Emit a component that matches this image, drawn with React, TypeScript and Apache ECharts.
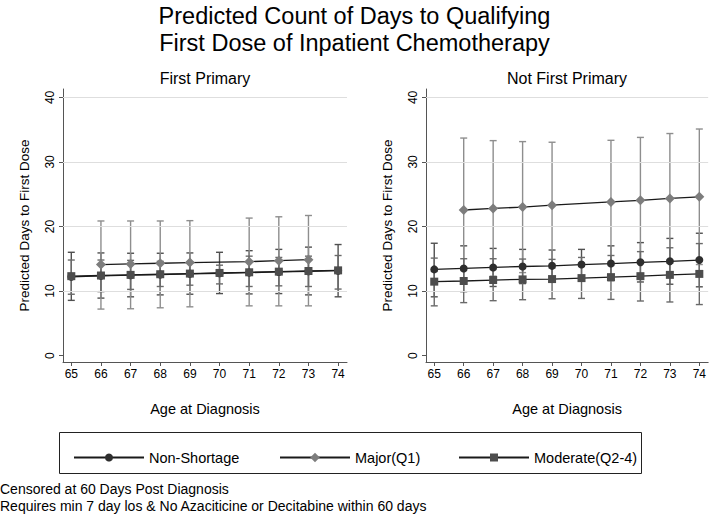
import React, { useEffect, useRef } from "react";
import * as echarts from "echarts";

const ages = [65, 66, 67, 68, 69, 70, 71, 72, 73, 74];
const yTicks = [0, 10, 20, 30, 40];
const gridVals = [10, 20, 30, 40];

// First Primary
const fpNonShortage = [12.2, 12.35, 12.45, 12.55, 12.65, 12.75, 12.85, 12.95, 13.05, 13.15];
const fpNonShortageLo = [8.55, 8.9, 9.1, 9.4, 9.5, 9.6, 9.55, 9.6, 9.4, 9.1];
const fpNonShortageHi = [16.0, 15.9, 15.85, 15.85, 15.9, 16.0, 16.25, 16.45, 16.8, 17.2];
const fpModerate = [12.3, 12.4, 12.5, 12.6, 12.7, 12.8, 12.9, 13.0, 13.1, 13.2];
const fpModerateLo = [9.5, 9.9, 10.25, 10.7, 10.9, 11.1, 10.7, 10.8, 10.7, 10.3];
const fpModerateHi = [14.8, 14.8, 14.75, 14.6, 14.5, 14.0, 15.4, 15.2, 15.4, 15.5];
const fpMajor = [null, 14.1, 14.2, 14.3, 14.4, null, 14.55, 14.7, 14.85, null];
const fpMajorLo = [null, 7.2, 7.25, 7.4, 7.55, null, 7.7, 7.7, 7.7, null];
const fpMajorHi = [null, 20.85, 20.85, 20.85, 20.9, null, 21.3, 21.5, 21.7, null];

// Not First Primary
const nfpNonShortage = [13.35, 13.5, 13.65, 13.8, 13.9, 14.1, 14.25, 14.45, 14.6, 14.8];
const nfpNonShortageLo = [9.1, 9.9, 10.7, 11.15, 11.45, 11.75, 11.6, 11.4, 11.05, 10.65];
const nfpNonShortageHi = [17.4, 17.0, 16.6, 16.45, 16.35, 16.45, 17.0, 17.5, 18.15, 18.95];
const nfpModerate = [11.45, 11.55, 11.7, 11.8, 11.85, 12.0, 12.15, 12.3, 12.5, 12.65];
const nfpModerateLo = [7.7, 8.2, 8.5, 8.65, 8.8, 8.85, 8.7, 8.45, 8.3, 7.9];
const nfpModerateHi = [15.1, 15.0, 15.0, 14.95, 14.9, 15.2, 15.5, 16.1, 16.7, 17.35];
const nfpMajor = [null, 22.55, 22.8, 23.0, 23.3, null, 23.8, 24.05, 24.35, 24.6];
const nfpMajorLo = [null, 11.4, 12.3, 12.85, 13.55, null, 14.25, 14.3, 14.3, 14.1];
const nfpMajorHi = [null, 33.7, 33.3, 33.15, 33.05, null, 33.35, 33.8, 34.4, 35.1];

const FONT = "'Liberation Sans', Arial, Helvetica, sans-serif";
const NAMES = ["Non-Shortage", "Major(Q1)", "Moderate(Q2-4)"];
const MARK_COLORS = ["#2e2e2e", "#7d7d7d", "#4d4d4d"];
const BAR_COLORS = ["#505050", "#8e8e8e", "#6a6a6a"];
const SYMBOLS = ["circle", "diamond", "rect"];
const SIZES = [8, 10, 8];
const LEGEND_SIZES = [10, 12, 10];

function linePts(vals: (number | null)[]) {
  return ages.map((a, i) => [a, vals[i] == null ? "-" : vals[i]]);
}
function barPts(lo: (number | null)[], hi: (number | null)[]) {
  const out: number[][] = [];
  ages.forEach((a, i) => {
    if (lo[i] != null && hi[i] != null) out.push([a, lo[i] as number, hi[i] as number]);
  });
  return out;
}

function errorSeries(idx: number, k: number, lo: any[], hi: any[]) {
  const color = BAR_COLORS[k];
  return {
    type: "custom",
    name: "ci-" + NAMES[k],
    xAxisIndex: idx,
    yAxisIndex: idx,
    z: 2,
    silent: true,
    encode: { x: 0, y: [1, 2] },
    data: barPts(lo, hi),
    renderItem: (params: any, api: any) => {
      const x = api.value(0);
      const pLo = api.coord([x, api.value(1)]);
      const pHi = api.coord([x, api.value(2)]);
      const w = 3.5;
      const st = { stroke: color, lineWidth: 1.4 };
      return {
        type: "group",
        children: [
          { type: "line", shape: { x1: pLo[0], y1: pLo[1], x2: pHi[0], y2: pHi[1] }, style: st },
          { type: "line", shape: { x1: pLo[0] - w, y1: pLo[1], x2: pLo[0] + w, y2: pLo[1] }, style: st },
          { type: "line", shape: { x1: pHi[0] - w, y1: pHi[1], x2: pHi[0] + w, y2: pHi[1] }, style: st },
        ],
      };
    },
  };
}

function lineSeries(idx: number, k: number, vals: any[]) {
  return {
    type: "line",
    name: NAMES[k],
    xAxisIndex: idx,
    yAxisIndex: idx,
    z: 4,
    data: linePts(vals),
    connectNulls: true,
    symbol: SYMBOLS[k],
    symbolSize: SIZES[k],
    showAllSymbol: true,
    itemStyle: { color: MARK_COLORS[k], opacity: 1 },
    lineStyle: { color: "#1a1a1a", width: 1.3 },
  };
}

function gridSeries(idx: number) {
  return {
    type: "line",
    name: "grid" + idx,
    xAxisIndex: idx,
    yAxisIndex: idx,
    z: 0,
    data: [],
    silent: true,
    markLine: {
      silent: true,
      symbol: "none",
      animation: false,
      label: { show: false },
      lineStyle: { color: "#dedede", width: 1, type: "solid" },
      data: gridVals.map((v) => ({ yAxis: v })),
    },
  };
}

function xAxis(idx: number) {
  return {
    gridIndex: idx,
    type: "value",
    min: 64.72,
    max: 74.3,
    axisLine: { show: true, onZero: false, lineStyle: { color: "#555", width: 1 } },
    axisTick: { show: true, customValues: ages, length: 4, lineStyle: { color: "#555" } },
    axisLabel: { customValues: ages, fontSize: 12, color: "#000", margin: 6, fontFamily: FONT },
    splitLine: { show: false },
    name: "Age at Diagnosis",
    nameLocation: "middle",
    nameGap: 39,
    nameTextStyle: { fontSize: 14.5, color: "#000", fontFamily: FONT },
  };
}

function yAxis(idx: number) {
  return {
    gridIndex: idx,
    type: "value",
    min: -1,
    max: 41.3,
    axisLine: { show: true, lineStyle: { color: "#555", width: 1 } },
    axisTick: { show: true, customValues: yTicks, length: 4, lineStyle: { color: "#555" } },
    axisLabel: { customValues: yTicks, rotate: 90, fontSize: 12, color: "#000", margin: 7, fontFamily: FONT },
    splitLine: { show: false },
    name: "Predicted Days to First Dose",
    nameLocation: "middle",
    nameGap: 32,
    nameTextStyle: { fontSize: 13.5, color: "#000", fontFamily: FONT },
  };
}

function legendAt(k: number, left: number) {
  return {
    data: [NAMES[k]],
    left,
    top: 445,
    itemWidth: 70,
    itemHeight: LEGEND_SIZES[k],
    itemGap: 10,
    selectedMode: false,
    textStyle: { fontSize: 14.5, color: "#000", fontFamily: FONT },
  };
}

export default function App() {
  const ref = useRef<HTMLDivElement>(null);
  useEffect(() => {
    if (!ref.current) return;
    const chart = echarts.init(ref.current, null, { renderer: "svg" });
    chart.setOption({
      animation: false,
      backgroundColor: "#fff",
      textStyle: { fontFamily: FONT },
      title: {
        text: "Predicted Count of Days to Qualifying\nFirst Dose of Inpatient Chemotherapy",
        left: "center",
        top: -3,
        textStyle: { fontSize: 23.5, fontWeight: "normal", color: "#000", lineHeight: 27, fontFamily: FONT },
      },
      grid: [
        { left: 63, top: 89, width: 284, height: 273 },
        { left: 426, top: 89, width: 283, height: 273 },
      ],
      xAxis: [xAxis(0), xAxis(1)],
      yAxis: [yAxis(0), yAxis(1)],
      legend: [legendAt(0, 68), legendAt(1, 274), legendAt(2, 453)],
      graphic: [
        { type: "text", x: 205, y: 78, style: { text: "First Primary", font: `16px ${FONT}`, fill: "#000", textAlign: "center", textVerticalAlign: "middle" } },
        { type: "text", x: 567, y: 78, style: { text: "Not First Primary", font: `16px ${FONT}`, fill: "#000", textAlign: "center", textVerticalAlign: "middle" } },
        { type: "rect", shape: { x: 59.5, y: 432.5, width: 582, height: 41 }, style: { fill: "none", stroke: "#222", lineWidth: 1 } },
        { type: "text", x: 0, y: 489, style: { text: "Censored at 60 Days Post Diagnosis", font: `14px ${FONT}`, fill: "#000", textVerticalAlign: "middle" } },
        { type: "text", x: 0, y: 506, style: { text: "Requires min 7 day los & No Azaciticine or Decitabine within 60 days", font: `14px ${FONT}`, fill: "#000", textVerticalAlign: "middle" } },
      ],
      series: [
        gridSeries(0),
        gridSeries(1),
        errorSeries(0, 0, fpNonShortageLo, fpNonShortageHi),
        errorSeries(0, 1, fpMajorLo, fpMajorHi),
        errorSeries(0, 2, fpModerateLo, fpModerateHi),
        errorSeries(1, 0, nfpNonShortageLo, nfpNonShortageHi),
        errorSeries(1, 1, nfpMajorLo, nfpMajorHi),
        errorSeries(1, 2, nfpModerateLo, nfpModerateHi),
        lineSeries(0, 0, fpNonShortage),
        lineSeries(0, 1, fpMajor),
        lineSeries(0, 2, fpModerate),
        lineSeries(1, 0, nfpNonShortage),
        lineSeries(1, 1, nfpMajor),
        lineSeries(1, 2, nfpModerate),
      ],
    });
    return () => chart.dispose();
  }, []);
  return <div ref={ref} style={{ position: "fixed", left: 0, top: 0, width: 709, height: 514, background: "#fff" }} />;
}
